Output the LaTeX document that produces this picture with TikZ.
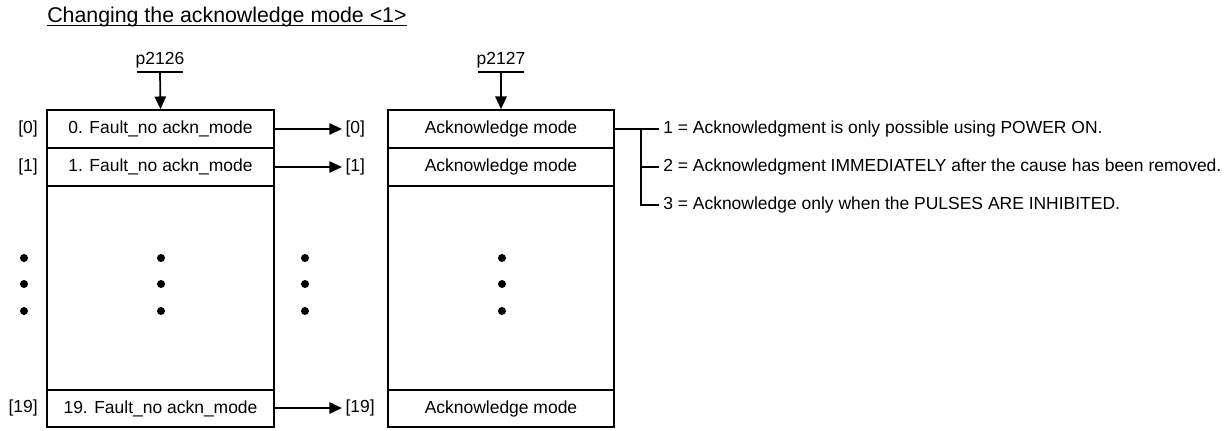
\documentclass[tikz,border=0pt]{standalone}
\usepackage{fontspec}
\setmainfont{Liberation Sans}
\usetikzlibrary{arrows.meta}
\begin{document}
\begin{tikzpicture}[x=0.75pt,y=-0.75pt,
  txt/.style={font=\fontsize{13.1}{15}\selectfont, inner sep=0pt},
  row/.style={draw, line width=1.3pt, minimum width=#1*0.75pt, inner sep=0pt, font=\fontsize{13.1}{15}\selectfont},
  conn/.style={line width=1.3pt},
  arr/.style={line width=1.3pt, -{Triangle[length=9.5pt,width=8.5pt]}},
  dotm/.style={fill=black, circle, inner sep=0pt, minimum size=6pt}]
\useasboundingbox (0,0) rectangle (1230,430);
% title
\node[anchor=base west, inner sep=0pt, font=\fontsize{16}{19}\selectfont] (title) at (47,22) {Changing the acknowledge mode <1>};
\draw[line width=0.9pt] (title.base west) ++(0,3.5) coordinate (tu1) -- (tu1 -| title.east);
% parameters
\node[txt] (p1) at (160,60) {p2126};
\coordinate (p1u) at (160,72);
\draw[conn] (137,72) -- (183,72);
\node[txt] (p2) at (501,60) {p2127};
\coordinate (p2u) at (501,72);
\draw[conn] (478,72) -- (524,72);
% left rows
\node[row=227, minimum height=38*0.75pt] (L0) at (160.5,129) {0. Fault\_no ackn\_mode};
\node[row=227, minimum height=38*0.75pt] (L1) at (160.5,167) {1. Fault\_no ackn\_mode};
\node[row=227, minimum height=204*0.75pt] (Lm) at (160.5,288) {};
\node[row=227, minimum height=37*0.75pt] (L19) at (160.5,408.5) {19. Fault\_no ackn\_mode};
% right rows
\node[row=226, minimum height=38*0.75pt] (R0) at (501,129) {Acknowledge mode};
\node[row=226, minimum height=38*0.75pt] (R1) at (501,167) {Acknowledge mode};
\node[row=226, minimum height=204*0.75pt] (Rm) at (501,288) {};
\node[row=226, minimum height=37*0.75pt] (R19) at (501,408.5) {Acknowledge mode};
% input arrows
\draw[arr] (p1u) -- (L0.north);
\draw[arr] (p2u) -- (R0.north);
% index labels left
\node[txt, anchor=east] (a0) at (38,129) {[0]};
\node[txt, anchor=east] (a1) at (38,167) {[1]};
\node[txt, anchor=east] (a19) at (38,408) {[19]};
% index labels middle
\node[txt, anchor=west, inner xsep=2.5pt] (b0) at (342,129) {[0]};
\node[txt, anchor=west, inner xsep=2.5pt] (b1) at (342,167) {[1]};
\node[txt, anchor=west, inner xsep=2.5pt] (b19) at (342,408) {[19]};
\draw[arr] (L0.east) -- (b0.west);
\draw[arr] (L1.east) -- (b1.west);
\draw[arr] (L19.east |- b19.west) -- (b19.west);
% dots
\foreach \x/\n in {24/a, 161/b, 305/c, 502/d}{
  \foreach \y/\m in {258/1, 284/2, 311/3}{
    \node[dotm] (dot\n\m) at (\x,\y) {};
  }
}
% options
\node[txt, anchor=west, inner xsep=3pt] (o1) at (659,129) {1 = Acknowledgment is only possible using POWER ON.};
\node[txt, anchor=west, inner xsep=3pt] (o2) at (659,167) {2 = Acknowledgment IMMEDIATELY after the cause has been removed.};
\node[txt, anchor=west, inner xsep=3pt] (o3) at (659,205) {3 = Acknowledge only when the PULSES ARE INHIBITED.};
\coordinate (br) at (641,129);
\draw[conn] (R0.east) -- (o1.west);
\draw[conn] (br) |- (o3.west);
\draw[conn] (br |- o2.west) -- (o2.west);
\end{tikzpicture}
\end{document}
